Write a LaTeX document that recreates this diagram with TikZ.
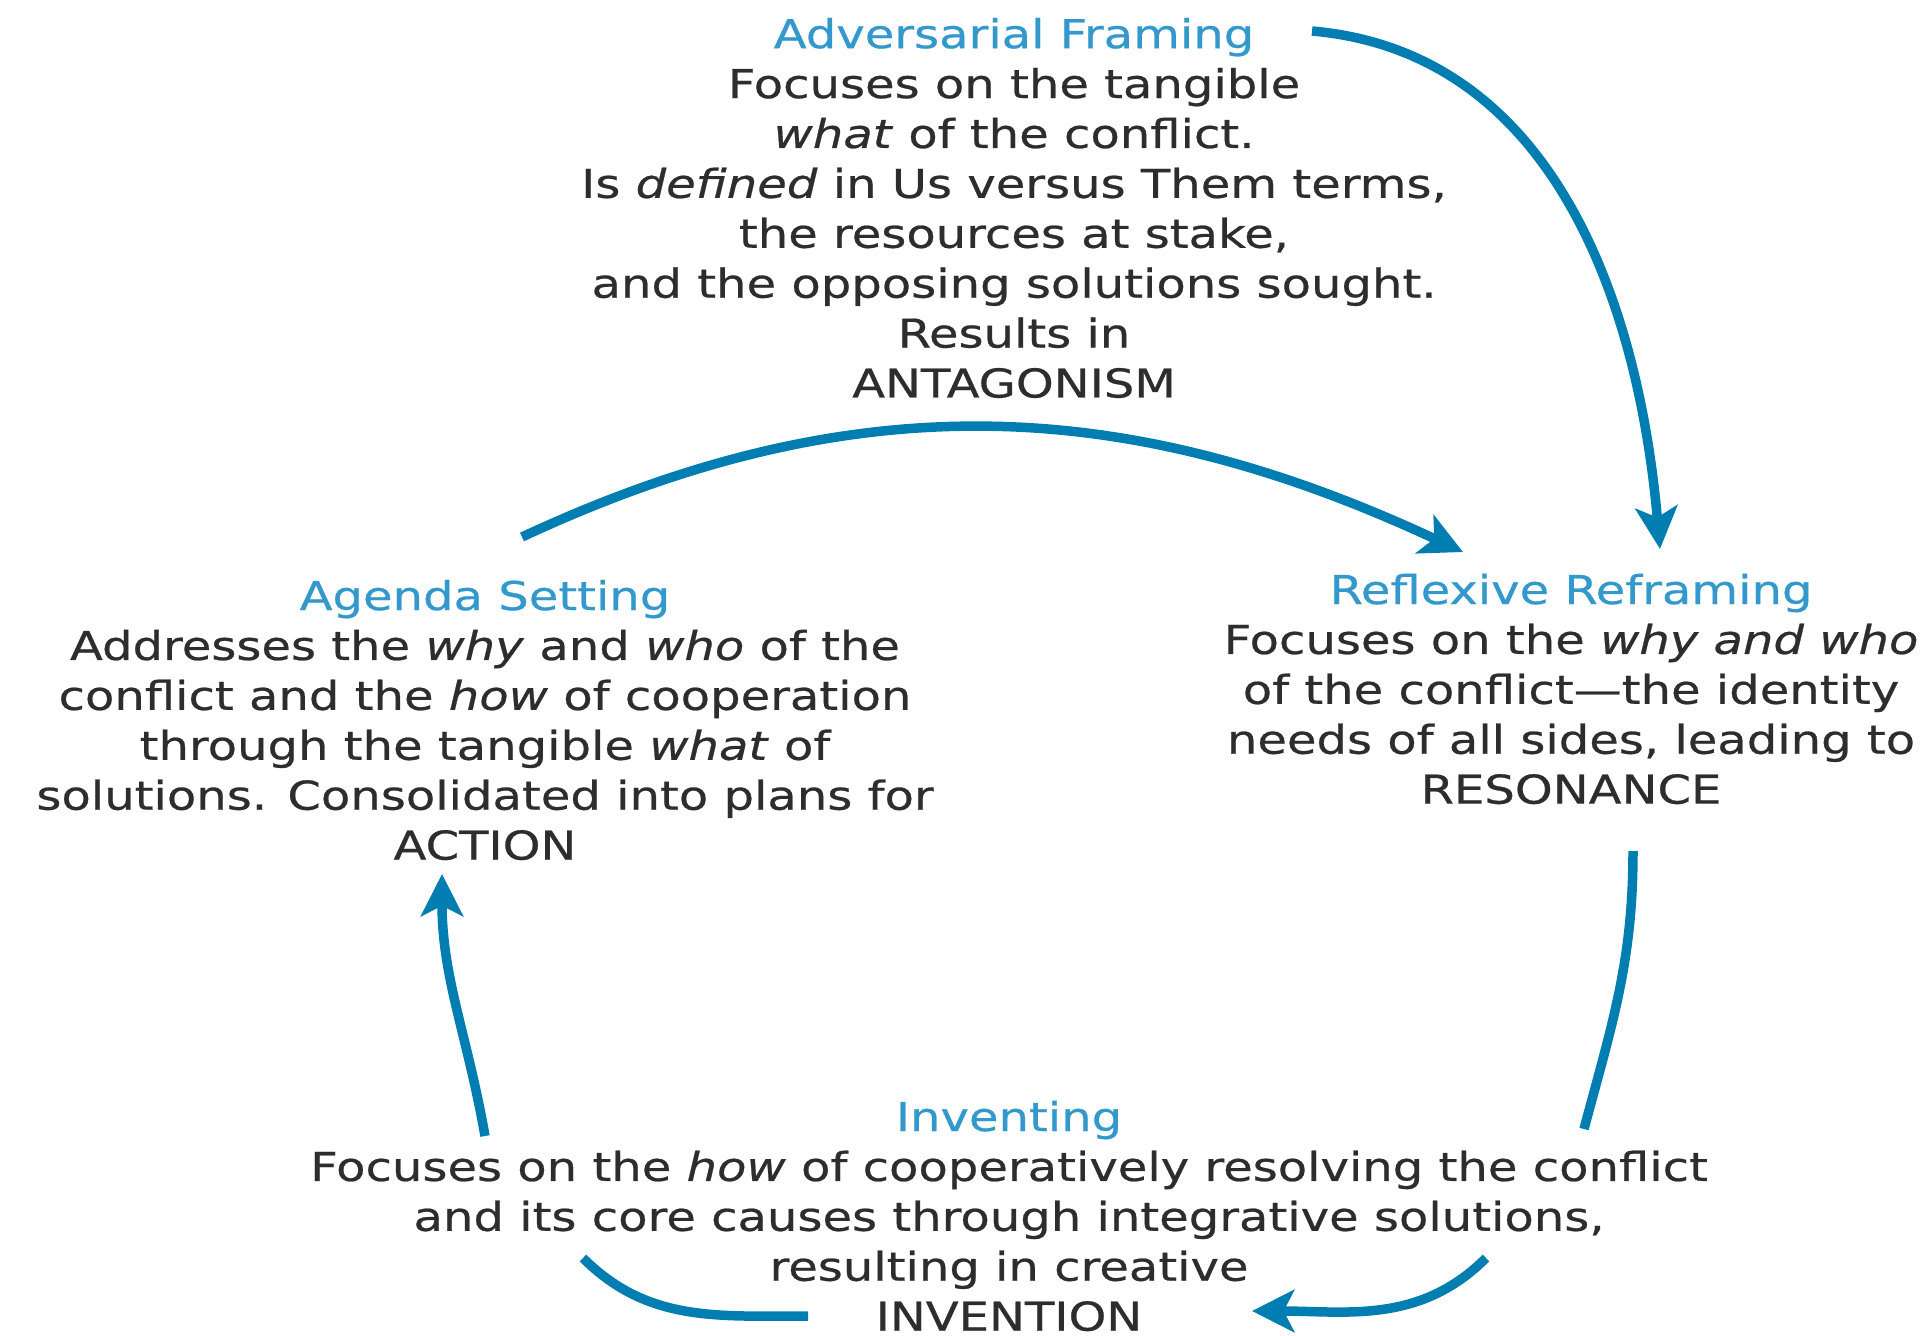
\documentclass[tikz,border=0pt]{standalone}
\usepackage{fontspec}
\setmainfont{DejaVu Sans}[FakeStretch=1.21, FakeBold=0.6]
\usetikzlibrary{arrows.meta}
\definecolor{cycleblue}{RGB}{0,126,178}
\definecolor{titleblue}{RGB}{51,153,204}
\definecolor{bodygray}{RGB}{45,45,45}
\newcommand{\phase}[1]{\textcolor{titleblue}{#1}}
\begin{document}
\begin{tikzpicture}[thick,
    every node/.style={align=center, text=bodygray, font=\fontsize{11.3}{14.2}\selectfont, inner sep=0pt},
    cyc/.style={draw=cycleblue, line width=2.7pt},
    cycarrow/.style={cyc, -{Stealth[length=12pt, width=12pt, inset=3pt]}}]{
    \useasboundingbox (0,0) rectangle (19.25,13.35);
    \node (Adversarial) at (10.14,11.27) {\phase{Adversarial Framing}\\Focuses on the tangible\\\textit{what} of the conflict.\\Is \textit{defined} in Us versus Them terms,\\the resources at stake,\\and the opposing solutions sought.\\Results in\\ANTAGONISM};
    \node (Agenda) at (4.85,6.15) {\phase{Agenda Setting}\\Addresses the \textit{why} and \textit{who} of the\\conflict and the \textit{how} of cooperation\\through the tangible \textit{what} of\\solutions. Consolidated into plans for\\ACTION};
    \node (Reflexive) at (15.71,6.46) {\phase{Reflexive Reframing}\\Focuses on the \textit{why and who}\\of the conflict---the identity\\needs of all sides, leading to\\RESONANCE};
    \node (Inventing) at (10.09,1.19) {\phase{Inventing}\\Focuses on the \textit{how} of cooperatively resolving the conflict\\and its core causes through integrative solutions,\\resulting in creative\\INVENTION};

    \coordinate (AdvOut) at (13.12,13.04);
    \coordinate (RefIn) at (16.60,7.86);
    \coordinate (AgOut) at (5.22,7.98);
    \coordinate (RefIn2) at (14.63,7.83);
    \coordinate (RefOut) at (16.33,4.84);
    \coordinate (RefGap) at (15.84,2.06);
    \coordinate (InvGapR) at (14.86,0.77);
    \coordinate (InvIn) at (12.52,0.24);
    \coordinate (InvOut) at (8.08,0.19);
    \coordinate (InvGapL) at (5.83,0.77);
    \coordinate (AgGap) at (4.85,1.99);
    \coordinate (AgIn) at (4.42,4.61);

    \draw [cycarrow] (AdvOut) to[out=-5, in=95] (RefIn);
    \draw [cycarrow] (AgOut) to[out=25, in=155] (RefIn2);
    \draw [cyc] (RefOut) to[out=-90, in=75] (RefGap);
    \draw [cycarrow] (InvGapR) to[out=-135, in=0] (InvIn);
    \draw [cyc] (InvOut) to[out=180, in=-45] (InvGapL);
    \draw [cycarrow] (AgGap) to[out=100, in=-90] (AgIn);
    }
\end{tikzpicture}
\end{document}
